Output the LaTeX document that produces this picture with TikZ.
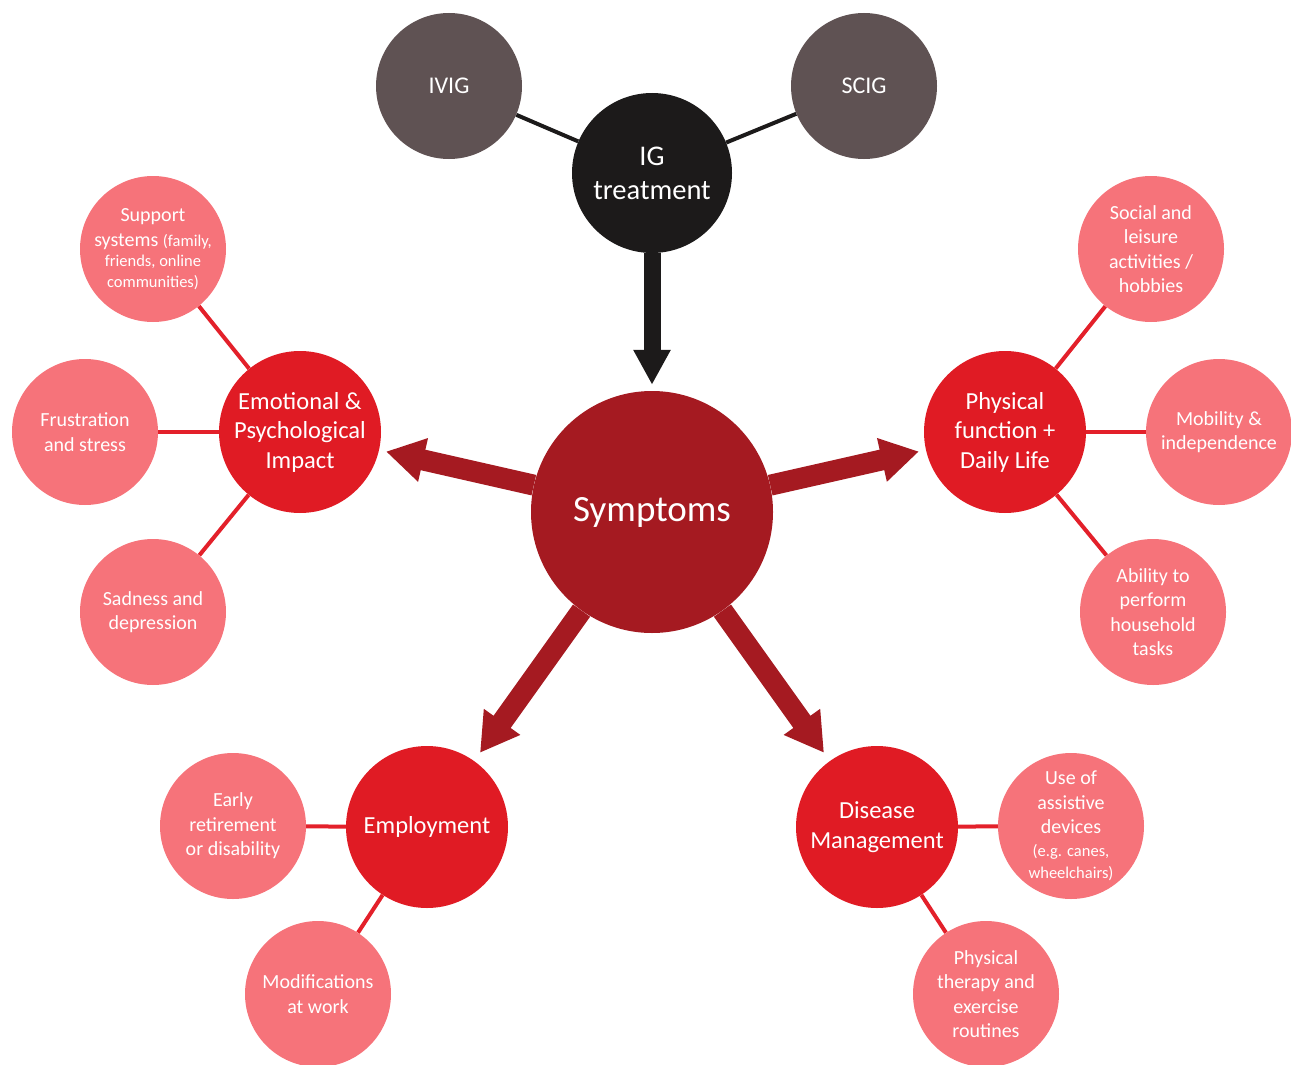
\documentclass[tikz,border=0pt]{standalone}
\usepackage{fontspec}
\setmainfont{Carlito}
\usetikzlibrary{arrows.meta,backgrounds}
\def\wLink{4pt}
\def\wArrow{21pt}
\def\wFeed{17pt}
\definecolor{cCore}{HTML}{A51A21}
\definecolor{cCat}{HTML}{E01B24}
\definecolor{cLeaf}{HTML}{F6737A}
\definecolor{cTreat}{HTML}{5F5253}
\definecolor{cInk}{HTML}{1C1A1A}
\definecolor{cLink}{HTML}{E3202A}
\tikzset{
  map/.style={every node/.style={align=center, text=white, inner sep=0pt}},
  core/.style={circle, fill=cCore, minimum size=242pt, font=\fontsize{37}{44}\selectfont},
  ig/.style={circle, fill=cInk, minimum size=160pt, font=\fontsize{28.5}{34}\selectfont},
  route/.style={circle, fill=cTreat, minimum size=146pt, font=\fontsize{24}{29}\selectfont},
  cat/.style={circle, fill=cCat, minimum size=162pt, font=\fontsize{24.5}{29.5}\selectfont},
  leaf/.style={circle, fill=cLeaf, minimum size=146pt, font=\fontsize{20}{24.5}\selectfont},
  link/.style={draw=cLink, line width=\wLink},
  tie/.style={draw=cInk, line width=\wLink},
  push/.style={draw=cCore, line width=\wArrow, -{Triangle[width=42pt, length=38pt]}},
  feed/.style={draw=cInk, line width=\wFeed, -{Triangle[width=35pt, length=35pt]}},
}
\newcommand{\fine}[1]{{\fontsize{16.5}{20}\selectfont #1}}

\begin{document}
\begin{tikzpicture}[map, x=1pt, y=-1pt]
\useasboundingbox (0,0) rectangle (1291,1065);
% treatment
\node[ig]    (igt)  at (652,173) {IG\\treatment};
\node[route] (ivig) at (449,86)  {IVIG};
\node[route] (scig) at (864,86)  {SCIG};

% centre and the four areas
\node[core] (sym) at (652,512) {Symptoms};
\node[cat] (emo)  at (300,432)  {Emotional \&\\Psychological\\Impact};
\node[cat] (phys) at (1005,432) {Physical\\function +\\Daily Life};
\node[cat] (emp)  at (427,827)  {Employment};
\node[cat] (dis)  at (877,827)  {Disease\\Management};

% leaves, emotional
\node[leaf] (sup)  at (153,249) {Support\\systems \fine{(family,}\\[-4pt]\fine{friends, online}\\[-4pt]\fine{communities)}};
\node[leaf] (fru)  at (85,432)  {Frustration\\and stress};
\node[leaf] (sad)  at (153,612) {Sadness and\\depression};
% leaves, physical
\node[leaf] (soc)  at (1151,249) {Social and\\leisure\\activities /\\hobbies};
\node[leaf] (mob)  at (1219,432) {Mobility \&\\independence};
\node[leaf] (abl)  at (1153,612) {Ability to\\perform\\household\\tasks};
% leaves, employment
\node[leaf] (ret)  at (233,826) {Early\\retirement\\or disability};
\node[leaf] (mod)  at (318,994) {Modifications\\at work};
% leaves, disease management
\node[leaf] (dev)  at (1071,826) {Use of\\assistive\\devices\\[-2pt]\fine{(e.g. canes,}\\[-2pt]\fine{wheelchairs)}};
\node[leaf] (ther) at (986,994)  {Physical\\therapy and\\exercise\\routines};

\begin{scope}[on background layer]
\draw[tie] (ivig) -- (igt);
\draw[tie] (scig) -- (igt);
\draw[link] (sup) -- (emo);
\draw[link] (fru) -- (emo);
\draw[link] (sad) -- (emo);
\draw[link] (soc) -- (phys);
\draw[link] (mob) -- (phys);
\draw[link] (abl) -- (phys);
\draw[link] (ret) -- (emp);
\draw[link] (mod) -- (emp);
\draw[link] (dev) -- (dis);
\draw[link] (ther) -- (dis);
% thick arrows
\draw[feed, shorten >=6pt]  (igt) -- (sym);
\draw[push, shorten >=7pt]  (sym) -- (emo);
\draw[push, shorten >=7pt]  (sym) -- (phys);
\draw[push, shorten >=10pt] (sym) -- (emp);
\draw[push, shorten >=10pt] (sym) -- (dis);
\end{scope}
\end{tikzpicture}
\end{document}
